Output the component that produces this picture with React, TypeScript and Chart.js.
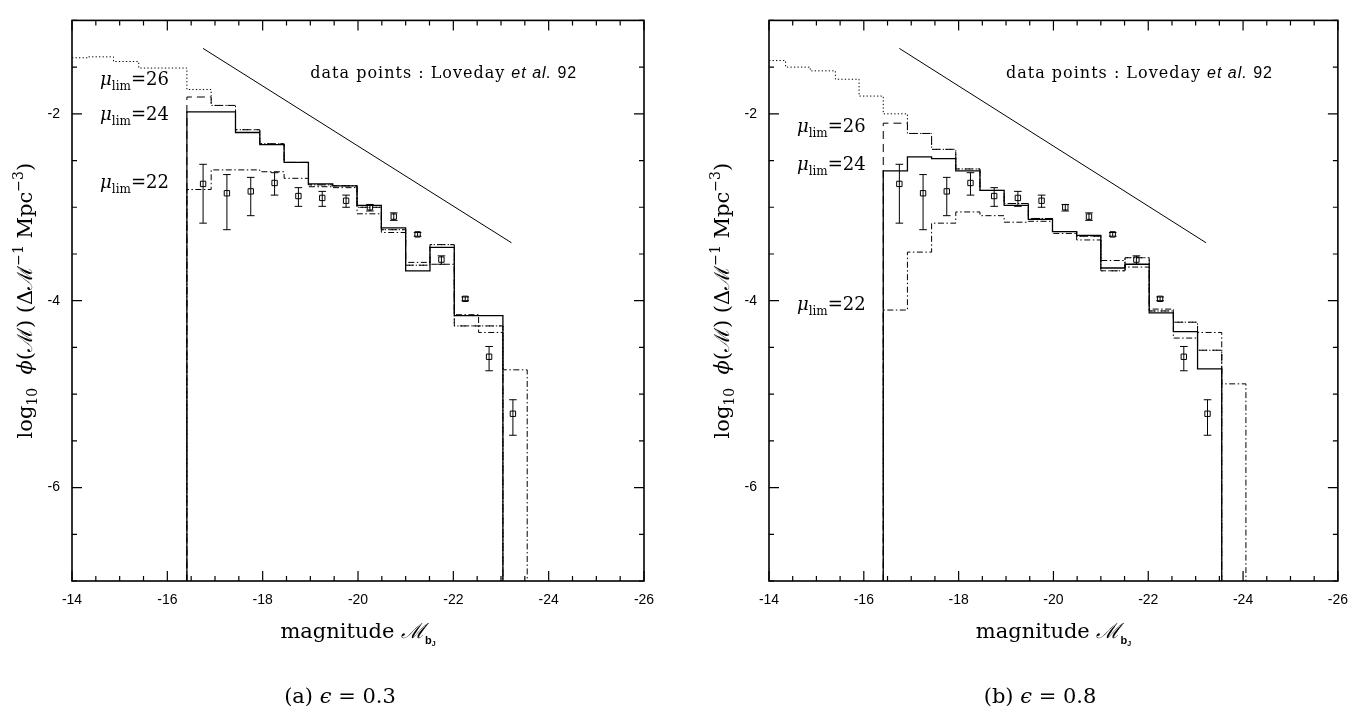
import React, { useEffect, useRef } from 'react';
import { Chart, registerables } from 'chart.js';

Chart.register(...registerables);

// ---------- axis ranges ----------
const Y_MIN = -7;
const Y_MAX = -1;
const X_FAINT = -14;
const X_BRIGHT = -26;

// ---------- Loveday et al. 92 data points ----------
const dataMag = [-16.75, -17.25, -17.75, -18.25, -18.75, -19.25, -19.75, -20.25, -20.75, -21.25, -21.75, -22.25, -22.75, -23.25];
const dataLogPhi = [-2.75, -2.85, -2.83, -2.74, -2.88, -2.90, -2.93, -3.00, -3.10, -3.29, -3.56, -3.98, -4.60, -5.21];
const dataErrHigh = [-2.54, -2.65, -2.68, -2.63, -2.79, -2.83, -2.87, -2.97, -3.06, -3.27, -3.52, -3.96, -4.49, -5.06];
const dataErrLow = [-3.17, -3.24, -3.09, -2.87, -2.99, -2.99, -3.00, -3.04, -3.14, -3.31, -3.61, -4.00, -4.75, -5.44];

// ---------- histogram bin edges (model LFs) ----------
const binEdges = [-16.41, -16.92, -17.43, -17.94, -18.45, -18.96, -19.47, -19.98, -20.49, -21.00, -21.51, -22.02, -22.53, -23.04, -23.55, -24.06];
const inputEdgesFaint = [-14.00, -14.35, -14.87, -15.40, -15.90];

// ---------- panel (a) eps = 0.3 ----------
const solidA = [-1.98, -1.98, -2.20, -2.33, -2.52, -2.75, -2.77, -2.98, -3.22, -3.68, -3.43, -4.16, -4.16];
const dashedA = [-1.82, -1.91, -2.17, -2.32, -2.52, -2.76, -2.77, -3.00, -3.24, -3.62, -3.40, -4.27, -4.27];
const dashDotA = [-2.81, -2.60, -2.60, -2.62, -2.69, -2.78, -2.79, -3.07, -3.27, -3.59, -3.61, -4.15, -4.34, -4.74];
const inputFaintA = [-1.40, -1.39, -1.44, -1.51, -1.51, -1.74];
const muLabelYA = [-1.69, -2.07, -2.79];

// ---------- panel (b) eps = 0.8 ----------
const solidB = [-2.61, -2.46, -2.48, -2.61, -2.82, -2.98, -3.13, -3.26, -3.30, -3.65, -3.61, -4.13, -4.33, -4.73];
const dashedB = [-2.10, -2.21, -2.38, -2.59, -2.82, -2.96, -3.12, -3.26, -3.31, -3.68, -3.54, -4.11, -4.23, -4.53];
const dashDotB = [-4.10, -3.48, -3.17, -3.05, -3.09, -3.16, -3.15, -3.28, -3.35, -3.57, -3.64, -4.09, -4.40, -4.34, -4.89];
const inputFaintB = [-1.43, -1.50, -1.54, -1.63, -1.81, -2.00];
const muLabelYB = [-2.19, -2.60, -4.10];

// ---------- annotations ----------
const muLabels = ['26', '24', '22'];
const muLabelX = -14.59;
const slopeLineX = [-16.75, -23.22];
const slopeLineY = [-1.30, -3.38];
const noteX = -19.0;
const noteY = -1.615;

const SERIF = '"DejaVu Serif", "Liberation Serif", serif';
const SANS = '"Liberation Sans", Arial, sans-serif';

type Seg = { t: string; font: string; dy?: number; ls?: number };

function measureSegs(ctx: CanvasRenderingContext2D, segs: Seg[]) {
  let w = 0;
  for (const s of segs) {
    ctx.font = s.font;
    (ctx as any).letterSpacing = (s.ls || 0) + 'px';
    w += ctx.measureText(s.t).width;
  }
  (ctx as any).letterSpacing = '0px';
  return w;
}

function drawSegs(ctx: CanvasRenderingContext2D, segs: Seg[], x: number, y: number) {
  let cx = x;
  for (const s of segs) {
    ctx.font = s.font;
    (ctx as any).letterSpacing = (s.ls || 0) + 'px';
    ctx.fillText(s.t, cx, y + (s.dy || 0));
    cx += ctx.measureText(s.t).width;
  }
  (ctx as any).letterSpacing = '0px';
}

function histPoints(edges: number[], values: number[], fromBottom: boolean) {
  const pts: { x: number; y: number }[] = [];
  if (fromBottom) pts.push({ x: edges[0], y: Y_MIN });
  for (let i = 0; i < values.length; i++) pts.push({ x: edges[i], y: values[i] });
  pts.push({ x: edges[values.length], y: Y_MIN });
  return pts;
}

interface PanelProps {
  left: number;
  width: number;
  padRight: number;
  solid: number[];
  dashed: number[];
  dashDot: number[];
  inputFaint: number[];
  muY: number[];
}

function Panel(props: PanelProps) {
  const ref = useRef<HTMLCanvasElement | null>(null);
  useEffect(() => {
    const canvas = ref.current!;
    const dottedEdges = inputEdgesFaint.concat(binEdges.slice(0, props.dashed.length + 1));
    const dottedValues = props.inputFaint.concat(props.dashed.slice(1));

    const framePlugin = {
      id: 'frame',
      afterDatasetsDraw(chart: any) {
        const ctx: CanvasRenderingContext2D = chart.ctx;
        const xs = chart.scales.x;
        const ys = chart.scales.y;
        ctx.save();
        ctx.strokeStyle = '#000';
        ctx.lineWidth = 1;
        for (let i = 0; i < dataMag.length; i++) {
          const px = xs.getPixelForValue(dataMag[i]);
          const yh = ys.getPixelForValue(dataErrHigh[i]);
          const yl = ys.getPixelForValue(dataErrLow[i]);
          ctx.beginPath();
          ctx.moveTo(px, yh);
          ctx.lineTo(px, yl);
          ctx.moveTo(px - 3.8, yh);
          ctx.lineTo(px + 3.8, yh);
          ctx.moveTo(px - 3.8, yl);
          ctx.lineTo(px + 3.8, yl);
          ctx.stroke();
        }
        ctx.restore();
      },
      afterDraw(chart: any) {
        const ctx: CanvasRenderingContext2D = chart.ctx;
        const a = chart.chartArea;
        const xs = chart.scales.x;
        const ys = chart.scales.y;
        ctx.save();
        ctx.strokeStyle = '#000';
        ctx.fillStyle = '#000';
        ctx.lineWidth = 1.6;
        ctx.strokeRect(a.left, a.top, a.right - a.left, a.bottom - a.top);
        ctx.lineWidth = 1.2;
        ctx.beginPath();
        for (const t of xs.ticks) {
          const px = xs.getPixelForValue(t.value);
          const len = Math.abs(t.value % 2) < 1e-9 ? 10 : 5;
          ctx.moveTo(px, a.bottom);
          ctx.lineTo(px, a.bottom - len);
          ctx.moveTo(px, a.top);
          ctx.lineTo(px, a.top + len);
        }
        for (const t of ys.ticks) {
          const py = ys.getPixelForValue(t.value);
          const len = Math.abs(t.value % 2) < 1e-9 ? 10 : 5;
          ctx.moveTo(a.left, py);
          ctx.lineTo(a.left + len, py);
          ctx.moveTo(a.right, py);
          ctx.lineTo(a.right - len, py);
        }
        ctx.stroke();

        ctx.textBaseline = 'alphabetic';
        ctx.textAlign = 'left';
        // y-axis title
        const ySegs: Seg[] = [
          { t: 'log', font: `21px ${SERIF}` },
          { t: '10', font: `14px ${SERIF}`, dy: 5 },
          { t: '  ', font: `21px ${SERIF}` },
          { t: 'ϕ', font: `italic 21px ${SERIF}` },
          { t: '(ℳ) (Δℳ', font: `21px ${SERIF}` },
          { t: '−1', font: `14px ${SERIF}`, dy: -9 },
          { t: ' Mpc', font: `21px ${SERIF}` },
          { t: '−3', font: `14px ${SERIF}`, dy: -9 },
          { t: ')', font: `21px ${SERIF}` },
        ];
        const yw = measureSegs(ctx, ySegs);
        ctx.save();
        ctx.translate(a.left - 40, (a.top + a.bottom) / 2);
        ctx.rotate(-Math.PI / 2);
        drawSegs(ctx, ySegs, -yw / 2, 0);
        ctx.restore();

        // x-axis title
        const xSegs: Seg[] = [
          { t: 'magnitude ', font: `21px ${SERIF}` },
          { t: 'ℳ', font: `italic 21px ${SERIF}` },
          { t: 'b', font: `bold 11px ${SANS}`, dy: 6 },
          { t: 'J', font: `bold 7px ${SANS}`, dy: 8 },
        ];
        const xw = measureSegs(ctx, xSegs);
        drawSegs(ctx, xSegs, (a.left + a.right) / 2 - xw / 2, a.bottom + 57);

        // mu_lim labels
        const mx = xs.getPixelForValue(muLabelX);
        for (let i = 0; i < muLabels.length; i++) {
          const my = ys.getPixelForValue(props.muY[i]);
          drawSegs(ctx, [
            { t: 'μ', font: `italic 18px ${SERIF}` },
            { t: 'lim', font: `12px ${SERIF}`, dy: 5 },
            { t: '=' + muLabels[i], font: `18px ${SERIF}` },
          ], mx, my);
        }

        // data-points note
        drawSegs(ctx, [
          { t: 'data points : Loveday ', font: `16px ${SERIF}`, ls: 1 },
          { t: 'et al.', font: `italic 16px ${SANS}`, ls: 1 },
          { t: ' 92', font: `16px ${SANS}`, ls: 1 },
        ], xs.getPixelForValue(noteX), ys.getPixelForValue(noteY));
        ctx.restore();
      },
    };

    const chart = new Chart(canvas, {
      type: 'scatter',
      data: {
        datasets: [
          {
            data: dataMag.map((m, i) => ({ x: m, y: dataLogPhi[i] })),
            pointStyle: 'rect',
            pointRadius: 3.8,
            pointBorderWidth: 1,
            pointBorderColor: '#000',
            pointBackgroundColor: 'rgba(0,0,0,0)',
            showLine: false,
          },
          {
            data: histPoints(binEdges, props.solid, true),
            showLine: true, stepped: true, pointRadius: 0,
            borderColor: '#000', borderWidth: 1.3,
          },
          {
            data: histPoints(binEdges, props.dashed, true),
            showLine: true, stepped: true, pointRadius: 0,
            borderColor: '#000', borderWidth: 1, borderDash: [8, 5],
          },
          {
            data: histPoints(binEdges, props.dashDot, true),
            showLine: true, stepped: true, pointRadius: 0,
            borderColor: '#000', borderWidth: 1, borderDash: [6, 2.5, 1.5, 2.5],
          },
          {
            data: histPoints(dottedEdges, dottedValues, false),
            showLine: true, stepped: true, pointRadius: 0,
            borderColor: '#000', borderWidth: 1, borderDash: [1.3, 2.2],
          },
          {
            data: slopeLineX.map((x, i) => ({ x, y: slopeLineY[i] })),
            showLine: true, pointRadius: 0,
            borderColor: '#000', borderWidth: 1,
          },
        ] as any,
      },
      options: {
        responsive: false,
        animation: false,
        events: [],
        layout: { padding: { top: 11, right: props.padRight, left: 0, bottom: 0 } },
        plugins: { legend: { display: false }, tooltip: { enabled: false }, title: { display: false } },
        scales: {
          x: {
            type: 'linear', min: X_BRIGHT, max: X_FAINT, reverse: true,
            grid: { display: false, drawTicks: false }, border: { display: false },
            ticks: {
              stepSize: 0.5, autoSkip: false, maxRotation: 0, minRotation: 0, padding: 11,
              color: '#000', font: { family: SANS, size: 14 },
              callback: (v: any) => (Math.abs(Number(v) % 2) < 1e-9 ? String(v) : ''),
            },
            afterFit: (s: any) => { s.height = 715 - 581; },
          },
          y: {
            type: 'linear', min: Y_MIN, max: Y_MAX,
            grid: { display: false, drawTicks: false }, border: { display: false },
            ticks: {
              stepSize: 0.5, autoSkip: false, padding: 12,
              color: '#000', font: { family: SANS, size: 14 },
              callback: (v: any) => (Math.abs(Number(v) % 2) < 1e-9 ? String(v) : ''),
            },
            afterFit: (s: any) => { s.width = 72; },
          },
        },
      } as any,
      plugins: [framePlugin],
    });
    return () => chart.destroy();
  }, []);
  return (
    <canvas
      ref={ref}
      width={props.width}
      height={715}
      style={{ position: 'absolute', left: props.left, top: 0, width: props.width, height: 715, display: 'block' }}
    />
  );
}

const captionStyle: React.CSSProperties = {
  position: 'absolute', top: 683, width: 300, textAlign: 'center',
  fontFamily: SERIF, fontSize: 21, color: '#000', lineHeight: '26px', whiteSpace: 'nowrap',
};

export default function App() {
  return (
    <div style={{ position: 'absolute', left: 0, top: 0, width: 1359, height: 715, background: '#fff', overflow: 'hidden' }}>
      <Panel left={0} width={680} padRight={36} solid={solidA} dashed={dashedA} dashDot={dashDotA} inputFaint={inputFaintA} muY={muLabelYA} />
      <Panel left={697} width={662} padRight={18} solid={solidB} dashed={dashedB} dashDot={dashDotB} inputFaint={inputFaintB} muY={muLabelYB} />
      <div style={{ ...captionStyle, left: 340 - 150 }}>(a) <i>ϵ</i> = 0.3</div>
      <div style={{ ...captionStyle, left: 1040 - 150 }}>(b) <i>ϵ</i> = 0.8</div>
    </div>
  );
}
